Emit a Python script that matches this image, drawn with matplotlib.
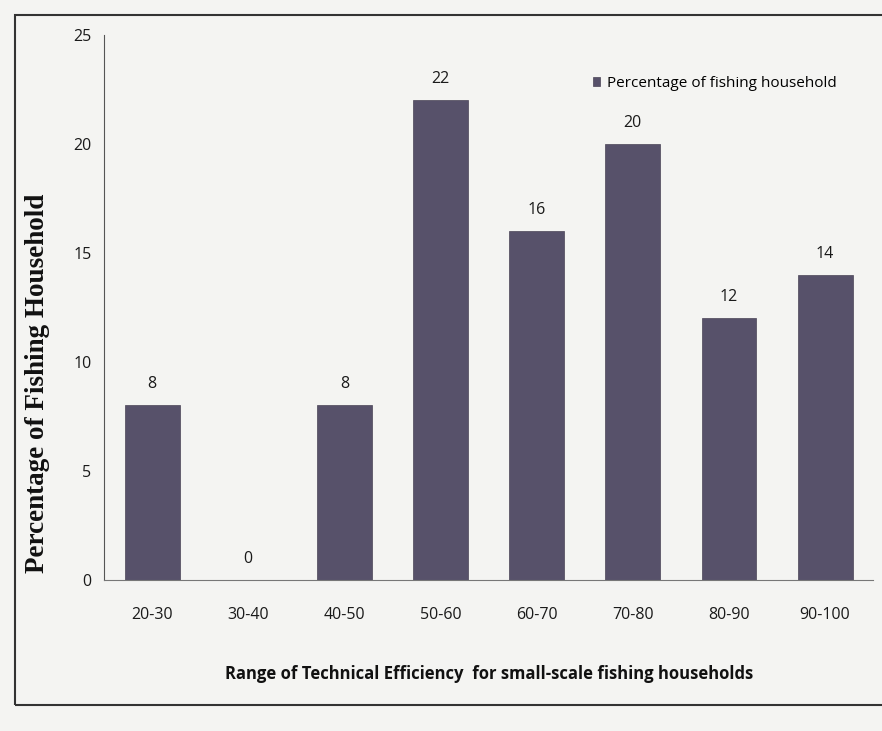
import matplotlib
matplotlib.use("Agg")
import matplotlib.pyplot as plt
from matplotlib.patches import Rectangle

categories = ["20-30", "30-40", "40-50", "50-60", "60-70", "70-80", "80-90", "90-100"]
values = [8, 0, 8, 22, 16, 20, 12, 14]
yticks = [0, 5, 10, 15, 20, 25]
series_name = "Percentage of fishing household"

fig = plt.figure(figsize=(8.82, 7.31), dpi=100)
fig.patch.set_facecolor("#f4f4f2")
ax = fig.add_axes([0.118, 0.207, 0.872, 0.745])
ax.set_facecolor("#f4f4f2")

sans = ["Open Sans", "DejaVu Sans"]
x = range(len(categories))
bars = ax.bar(x, values, width=0.57, color="#57516a", edgecolor="#4a4456",
              linewidth=0.5, label=series_name)
for xi, v in zip(x, values):
    ax.text(xi, v + 0.6, f"{v:.0f}", ha="center", va="bottom", fontsize=11.5,
            family=sans, color="#1a1a1a")

ax.set_xlim(-0.5, 7.5)
ax.set_ylim(0, 25)
ax.set_yticks(yticks)
ax.set_xticks(list(x))
ax.set_xticklabels(categories, family=sans, fontsize=11.5)
for lab in ax.get_yticklabels():
    lab.set_family(sans)
    lab.set_fontsize(11.5)
ax.tick_params(axis="both", length=0, colors="#1a1a1a")
ax.tick_params(axis="x", pad=20)
ax.tick_params(axis="y", pad=9)
for s in ["top", "right"]:
    ax.spines[s].set_visible(False)
ax.spines["left"].set_color("#555555")
ax.spines["bottom"].set_color("#777777")
ax.spines["left"].set_linewidth(0.8)
ax.spines["bottom"].set_linewidth(0.8)

ax.set_xlabel("Range of Technical Efficiency  for small-scale fishing households",
              family=sans, fontsize=12, fontweight="bold", labelpad=30,
              color="#111111")
ax.set_ylabel("Percentage of Fishing Household", family=["Liberation Serif"],
              fontsize=19.5, fontweight="bold", color="#111111")
ax.yaxis.set_label_coords(-0.07, 0.36)

leg = ax.legend(loc="upper right", bbox_to_anchor=(0.97, 0.95), frameon=False,
                handlelength=0.5, handleheight=0.5, handletextpad=0.4,
                prop={"family": sans, "size": 11})

fig.patches.append(Rectangle((0.017, 0.035), 0.99, 0.945, transform=fig.transFigure,
                             fill=False, edgecolor="#333333", linewidth=1.5))

fig.savefig("out.png", dpi=100, facecolor=fig.get_facecolor())
